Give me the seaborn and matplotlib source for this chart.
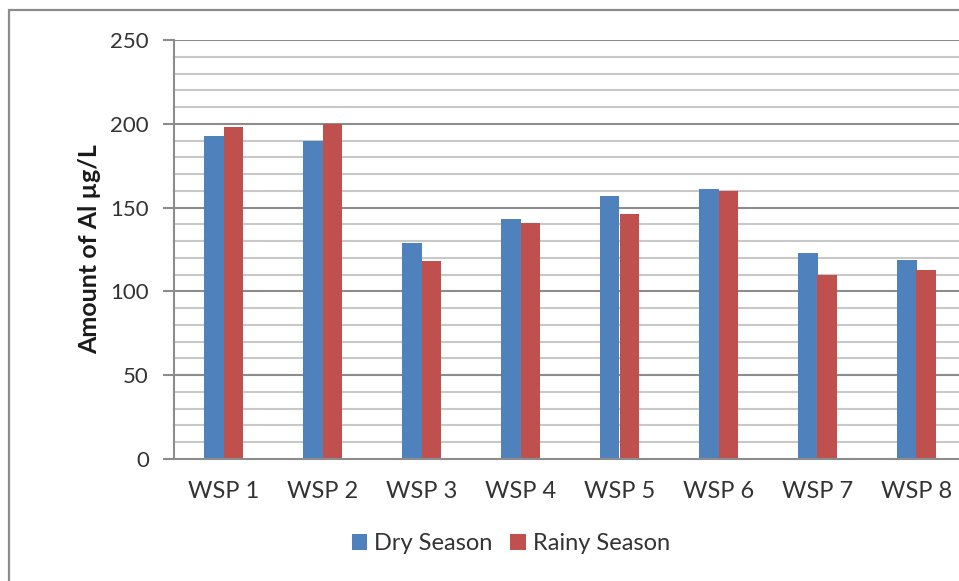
import matplotlib
matplotlib.use("Agg")
import matplotlib.pyplot as plt
from matplotlib.patches import Rectangle
from matplotlib.ticker import MultipleLocator
import seaborn as sns
import pandas as pd

# Aluminium concentration per water sampling point, by season
sites = ["WSP 1", "WSP 2", "WSP 3", "WSP 4", "WSP 5", "WSP 6", "WSP 7", "WSP 8"]
dry_season = [193, 190, 129, 143, 157, 161, 123, 119]
rainy_season = [198, 200, 118, 141, 146, 160, 110, 113]
seasons = ["Dry Season", "Rainy Season"]
season_colors = ["#4F81BD", "#C0504D"]

df = pd.DataFrame({
    "site": sites * 2,
    "season": [seasons[0]] * len(sites) + [seasons[1]] * len(sites),
    "value": dry_season + rainy_season,
})

sns.set_theme(style="white")
plt.rcParams["font.family"] = ["Lato", "DejaVu Sans"]

W, H = 959, 581
fig = plt.figure(figsize=(W / 100, H / 100), dpi=100)
fig.patch.set_facecolor("white")

# plot area in pixels: left 174, top 40, bottom 459, right runs past the frame
left, top, bottom, right = 174, 40, 459, 966
ax = fig.add_axes([left / W, 1 - bottom / H, (right - left) / W, (bottom - top) / H])

sns.barplot(data=df, x="site", y="value", hue="season", order=sites,
            hue_order=seasons, palette=season_colors, width=0.385,
            saturation=1, edgecolor="none", linewidth=0, ax=ax, zorder=3)

ax.set_ylim(0, 250)
ax.set_xlim(-0.5, len(sites) - 0.5)
ax.yaxis.set_major_locator(MultipleLocator(50))
ax.yaxis.set_minor_locator(MultipleLocator(10))
ax.grid(False)
for v in range(10, 251, 10):
    major = v % 50 == 0
    ax.axhline(v, color="#8C8C8C" if major else "#C8C8C8",
               linewidth=1.5, zorder=1)

for side in ["top", "right"]:
    ax.spines[side].set_visible(False)
for side in ["left", "bottom"]:
    ax.spines[side].set_color("#8C8C8C")
    ax.spines[side].set_linewidth(1.5)
    ax.spines[side].set_zorder(4)

ax.tick_params(axis="y", which="major", direction="out", length=8, width=1.5,
               color="#8C8C8C", labelsize=16, labelcolor="#333333", pad=10,
               left=True)
ax.tick_params(axis="y", which="minor", length=0)
ax.tick_params(axis="x", length=0, labelsize=17, labelcolor="#333333", pad=16)

ax.set_xlabel("")
ax.set_ylabel("Amount of Al µg/L", fontsize=18, fontweight="bold",
              color="#1a1a1a", labelpad=7)

leg = ax.legend(loc="center", bbox_to_anchor=(511 / W, 1 - 544 / H),
                bbox_transform=fig.transFigure, ncol=2, frameon=False,
                fontsize=17, handlelength=0.65, handleheight=0.65,
                handletextpad=0.3, columnspacing=0.75)
for t in leg.get_texts():
    t.set_color("#333333")

# outer chart frame
fig.patches.append(Rectangle((9 / W, -0.1), 1.2, 1 - 10 / H + 0.1,
                             transform=fig.transFigure, fill=False,
                             edgecolor="#8C8C8C", linewidth=1.6))

fig.savefig("out.png", dpi=100)
